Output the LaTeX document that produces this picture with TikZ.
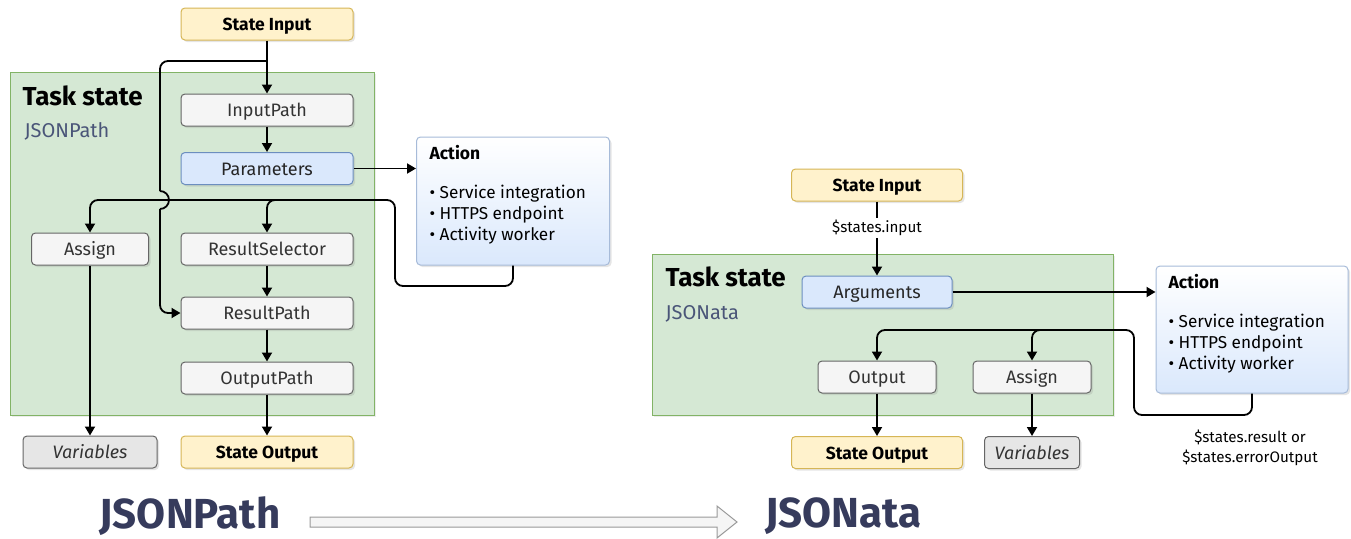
\documentclass[tikz,border=0pt]{standalone}
\usepackage{fontspec}
\setmainfont{Fira Sans}
\usetikzlibrary{arrows.meta,shadows}

\definecolor{inyellow}{HTML}{FFF2CC}
\definecolor{inyellowline}{HTML}{D6B656}
\definecolor{stepgray}{HTML}{F5F5F5}
\definecolor{stepline}{HTML}{666666}
\definecolor{varsgray}{HTML}{E6E6E6}
\definecolor{parblue}{HTML}{DAE8FC}
\definecolor{parline}{HTML}{6C8EBF}
\definecolor{taskgreen}{HTML}{D5E8D4}
\definecolor{taskline}{HTML}{82B366}
\definecolor{navytext}{HTML}{363B5C}
\definecolor{slatetext}{HTML}{4A5578}
\definecolor{darktext}{HTML}{333333}

\begin{document}
\begin{tikzpicture}[x=1pt, y=-1pt,
    box/.style={rounded corners=4pt, line width=1pt, minimum height=32pt, inner sep=0pt,
        text height=13pt, text depth=0pt,
        drop shadow={shadow xshift=2pt, shadow yshift=-2pt, opacity=0.2}},
    iobox/.style={box, fill=inyellow, draw=inyellowline, font=\fontsize{17.5}{20}\selectfont\bfseries},
    stepbox/.style={box, fill=stepgray, draw=stepline, text=darktext, font=\fontsize{18}{20}\selectfont},
    varbox/.style={box, fill=varsgray, draw=stepline, text=darktext, font=\fontsize{18}{20}\selectfont\itshape},
    callbox/.style={box, fill=parblue, draw=parline, text=black!85, font=\fontsize{18}{20}\selectfont},
    actbox/.style={box, top color=white, bottom color=parblue, draw=parline!60},
    taskbox/.style={fill=taskgreen, draw=taskline, line width=1pt,
        drop shadow={shadow xshift=2pt, shadow yshift=-2pt, opacity=0.15}},
    tasktitle/.style={anchor=west, font=\fontsize{26}{30}\selectfont\bfseries},
    tasklang/.style={anchor=west, text=slatetext, font=\fontsize{20}{24}\selectfont},
    acttext/.style={anchor=west, align=left, font=\fontsize{17.2}{21}\selectfont},
    smalltext/.style={align=center, inner sep=2pt, font=\fontsize{15.2}{20}\selectfont},
    bigtext/.style={inner sep=0pt, text=navytext, font=\fontsize{42}{46}\selectfont\bfseries},
    line/.style={line width=1.8pt},
    conn/.style={line, -{Triangle[length=9pt, width=10pt]}},
]
\fill[white] (0,0) rectangle (1351,538);
\useasboundingbox (0,0) rectangle (1351,538);

% JSONPath task state
\node[taskbox, minimum width=364pt, minimum height=343pt] (task1) at (192,243.5) {};
\node[tasktitle] (task1t) at (19,96) {Task state};
\node[tasklang] (task1l) at (21,131) {JSONPath};

\node[iobox, minimum width=172pt] (in1) at (267,24) {State Input};
\node[stepbox, minimum width=172pt] (ip) at (267,110) {InputPath};
\node[callbox, minimum width=172pt] (par) at (267,168.5) {Parameters};
\node[stepbox, minimum width=117pt] (asg1) at (90,249) {Assign};
\node[stepbox, minimum width=172pt] (rs) at (267,249) {ResultSelector};
\node[stepbox, minimum width=172pt] (rp) at (267,313) {ResultPath};
\node[stepbox, minimum width=172pt] (op) at (267,378) {OutputPath};
\node[varbox, minimum width=134pt] (var1) at (90,452) {Variables};
\node[iobox, minimum width=172pt] (so1) at (267,452) {State Output};

\node[actbox, minimum width=193pt, minimum height=128pt] (act1) at (513,201) {};
\node[acttext, font=\fontsize{17.5}{21}\selectfont\bfseries] (act1t) at (426,153) {Action};
\node[acttext] (act1l) at (426,215) {• Service integration\\• HTTPS endpoint\\• Activity worker};

\coordinate (hopA) at (160,191);
\coordinate (hopB) at (160,209);

\draw[conn] (in1.south) -- (ip.north);
\draw[conn] (ip.south) -- (par.north);
\draw[conn] (par.east) -- (act1.west |- par.east);
\draw[line, rounded corners=8pt] (in1.south |- 0,61) -- (160,61) -- (hopA);
\draw[line] (hopA) arc[start angle=-90, end angle=90, radius=9];
\draw[conn, rounded corners=8pt] (hopB) -- (160,313) -- (rp.west);
\draw[conn, rounded corners=8pt] (act1.south) -- (act1.south |- 0,286) -| (395,200)
    -- (asg1.north |- 0,200) -- (asg1.north);
\draw[conn, rounded corners=8pt] (300,200) -- (rs.north |- 0,200) -- (rs.north);
\draw[conn] (rs.south) -- (rp.north);
\draw[conn] (rp.south) -- (op.north);
\draw[conn] (op.south) -- (so1.north);
\draw[conn] (asg1.south) -- (var1.north);

% JSONata task state
\node[taskbox, minimum width=461pt, minimum height=161pt] (task2) at (882.5,334.5) {};
\node[tasktitle] (task2t) at (662,277) {Task state};
\node[tasklang] (task2l) at (662,314) {JSONata};

\node[iobox, minimum width=171pt] (in2) at (877,185) {State Input};
\node[smalltext] (sin) at (877,228) {\$states.input};
\node[callbox, minimum width=150pt] (arg) at (877,292) {Arguments};
\node[stepbox, minimum width=118pt] (out) at (877,377) {Output};
\node[stepbox, minimum width=118pt] (asg2) at (1032,377) {Assign};
\node[iobox, minimum width=171pt] (so2) at (877,452.5) {State Output};
\node[varbox, minimum width=95pt] (var2) at (1032,452.5) {Variables};

\node[actbox, minimum width=192pt, minimum height=127pt] (act2) at (1252,329.5) {};
\node[acttext, font=\fontsize{17.5}{21}\selectfont\bfseries] (act2t) at (1165,282) {Action};
\node[acttext] (act2l) at (1165,344) {• Service integration\\• HTTPS endpoint\\• Activity worker};
\node[smalltext] (res) at (1250,448) {\$states.result or\\\$states.errorOutput};

\draw[line] (in2.south) -- (sin.north);
\draw[conn] (sin.south) -- (arg.north);
\draw[conn] (arg.east) -- (act2.west |- arg.east);
\draw[conn, rounded corners=8pt] (act2.south) -- (act2.south |- 0,415) -| (1134,330)
    -- (out.north |- 0,330) -- (out.north);
\draw[conn, rounded corners=8pt] (1060,330) -- (asg2.north |- 0,330) -- (asg2.north);
\draw[conn] (out.south) -- (so2.north);
\draw[conn] (asg2.south) -- (var2.north);

% from JSONPath to JSONata
\node[bigtext] (big1) at (190,516) {JSONPath};
\node[bigtext] (big2) at (843,516) {JSONata};
\draw[fill=stepgray, draw=black!40, line width=1pt] (310,517) -- (717,517) -- (717,506)
    -- (737,522) -- (717,538) -- (717,527) -- (310,527) -- cycle;
\end{tikzpicture}
\end{document}
